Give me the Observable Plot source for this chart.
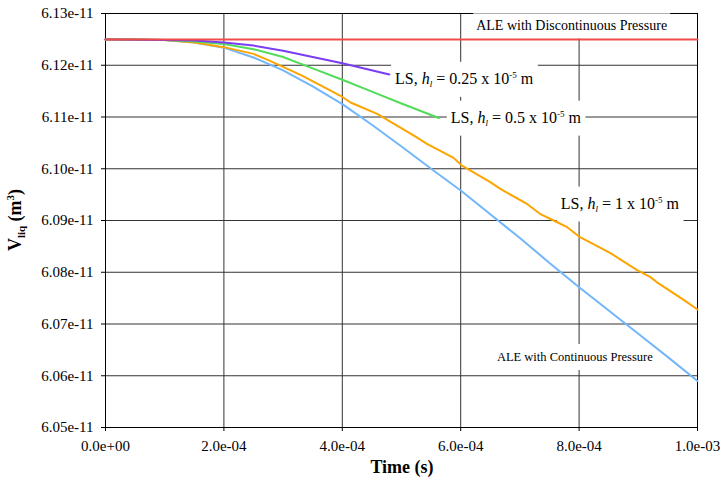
<!DOCTYPE html>
<html>
<head>
<meta charset="utf-8">
<script src="https://cdn.jsdelivr.net/npm/d3@7"></script>
<script src="https://cdn.jsdelivr.net/npm/@observablehq/plot@0.6"></script>
<style>
  body { margin: 0; background: #fff; }
  #chart svg { display: block; }
  #chart svg, #chart svg text { font-family: "Liberation Serif", "Times New Roman", serif !important; }
</style>
</head>
<body>
<div id="chart"></div>
<script>
// Axis ticks
const xTicks = [0, 2e-4, 4e-4, 6e-4, 8e-4, 1e-3];
const yTicks = [6.05e-11, 6.06e-11, 6.07e-11, 6.08e-11, 6.09e-11, 6.10e-11, 6.11e-11, 6.12e-11, 6.13e-11];

// Liquid volume histories: time in units of 1e-4 s, volume in units of 1e-11 m^3
const aleDiscT = [0, 10];
const aleDiscV = [6.1250, 6.1250];

const aleContT = [0, 0.5, 1, 1.5, 2, 2.5, 3, 3.5, 4, 4.5, 5, 5.5, 6, 6.5, 7, 7.5, 8, 8.5, 9, 9.5, 10];
const aleContV = [6.1250, 6.1250, 6.1249, 6.1244, 6.1234, 6.1215, 6.1190, 6.1159, 6.1125, 6.1085, 6.1043,
                  6.1000, 6.0958, 6.0912, 6.0866, 6.0818, 6.0771, 6.0726, 6.0681, 6.0636, 6.0590];

const ls1T = [0, 0.5, 1, 1.5, 2, 2.5, 2.75, 3, 3.32, 3.97, 4.14, 4.59, 5.21, 5.43, 5.88, 6.02, 6.16,
              6.5, 6.67, 7.12, 7.34, 7.57, 7.8, 8, 8.53, 8.98, 9.2, 9.31, 9.76, 10];
const ls1V = [6.1250, 6.1250, 6.1249, 6.1244, 6.1235, 6.1222, 6.1210, 6.1197, 6.1180, 6.1141, 6.1128,
              6.1106, 6.1064, 6.1048, 6.1021, 6.1006, 6.0997, 6.0974, 6.0961, 6.0932, 6.0913, 6.0900,
              6.0887, 6.0869, 6.0837, 6.0804, 6.0791, 6.0781, 6.0747, 6.0728];

const ls05T = [0, 1, 1.5, 2, 2.5, 3, 3.5, 4, 4.5, 5, 5.63];
const ls05V = [6.1250, 6.1249, 6.1246, 6.1241, 6.1231, 6.1216, 6.1194, 6.1172, 6.1149, 6.1126, 6.1098];

const ls025T = [0, 1, 1.5, 2, 2.5, 3, 3.5, 4, 4.795];
const ls025V = [6.1250, 6.1249, 6.1248, 6.1244, 6.1238, 6.1228, 6.1216, 6.1204, 6.1182];

const toRows = (T, V) => T.map((t, i) => ({t: t * 1e-4, v: V[i] * 1e-11}));

const series = [
  {rows: toRows(aleContT, aleContV), color: "#72b6fb"},
  {rows: toRows(ls1T, ls1V), color: "#fca400"},
  {rows: toRows(ls05T, ls05V), color: "#52dc5a"},
  {rows: toRows(ls025T, ls025V), color: "#7b3cf5"},
  {rows: toRows(aleDiscT, aleDiscV), color: "#ee4b4b"}
];

const fmtX = d => d3.format(".1e")(d).replace(/e([+-])(\d)$/, "e$10$2");
const fmtY = d3.format(".2e");

const plot = Plot.plot({
  width: 721,
  height: 485,
  marginLeft: 105,
  marginRight: 24,
  marginTop: 13,
  marginBottom: 58,
  style: {background: "#fff", color: "#000"},
  x: {domain: [0, 1e-3]},
  y: {domain: [6.05e-11, 6.13e-11]},
  marks: [
    Plot.gridX(xTicks, {stroke: "#333", strokeOpacity: 1, strokeWidth: 1}),
    Plot.gridY(yTicks, {stroke: "#333", strokeOpacity: 1, strokeWidth: 1}),
    Plot.frame({stroke: "#000", strokeWidth: 1}),
    Plot.axisX(xTicks, {tickFormat: fmtX, tickSize: 4, tickPadding: 9, label: null}),
    Plot.axisY(yTicks, {tickFormat: fmtY, tickSize: 4, tickPadding: 8, label: null}),
    ...series.map(s => Plot.line(s.rows, {x: "t", y: "v", stroke: s.color, strokeWidth: 2}))
  ]
});

document.getElementById("chart").appendChild(plot);

const svg = d3.select(plot);
const sx = plot.scale("x"), sy = plot.scale("y");

// Tick labels are the only texts Plot draws here
svg.selectAll("text").style("font-size", "15px");

// Axis titles
svg.append("text")
  .attr("x", 402).attr("y", 473)
  .attr("text-anchor", "middle")
  .attr("font-weight", "bold").attr("font-size", 18)
  .text("Time (s)");

const yTitle = svg.append("text")
  .attr("transform", "translate(21,220) rotate(-90)")
  .attr("text-anchor", "middle")
  .attr("font-weight", "bold").attr("font-size", 18);
yTitle.append("tspan").text("V");
yTitle.append("tspan").attr("font-size", 11).attr("dy", 4).text("liq");
yTitle.append("tspan").attr("dy", -4).text(" (m");
yTitle.append("tspan").attr("font-size", 11).attr("dy", -7).text("3");
yTitle.append("tspan").attr("dy", 7).text(")");

// Curve annotations on white boxes
function annotate(t, v, size, parts, padX, padY) {
  const g = svg.append("g");
  const txt = g.append("text")
    .attr("x", sx.apply(t)).attr("y", sy.apply(v))
    .attr("text-anchor", "start")
    .attr("dy", "0.35em")
    .attr("font-size", size);
  for (const p of parts) {
    const span = txt.append("tspan").text(p.s);
    if (p.i) span.attr("font-style", "italic");
    if (p.fs) span.attr("font-size", p.fs);
    if (p.dy) span.attr("dy", p.dy);
  }
  const b = txt.node().getBBox();
  g.insert("rect", "text")
    .attr("x", b.x - padX).attr("y", b.y - padY)
    .attr("width", b.width + 2 * padX).attr("height", b.height + 2 * padY)
    .attr("fill", "#fff");
}

const lsParts = (h) => [
  {s: "LS, "},
  {s: "h", i: true},
  {s: "l", i: true, fs: 9, dy: 3},
  {s: " = " + h + " x 10", dy: -3},
  {s: "-5", fs: 9, dy: -6},
  {s: " m", dy: 6}
];

annotate(6.27e-4, 6.1276e-11, 14, [{s: "ALE with Discontinuous Pressure"}], 3, 5);
annotate(4.9e-4, 6.1174e-11, 16, lsParts("0.25"), 4, 8);
annotate(5.84e-4, 6.1099e-11, 16, lsParts("0.5"), 4, 8);
annotate(7.70e-4, 6.0933e-11, 16, lsParts("1"), 4, 8);
annotate(6.62e-4, 6.0636e-11, 12.5, [{s: "ALE with Continuous Pressure"}], 3, 6);

// Keep the curves above the annotation boxes
svg.selectAll('g[aria-label="line"]').raise();
</script>
</body>
</html>
